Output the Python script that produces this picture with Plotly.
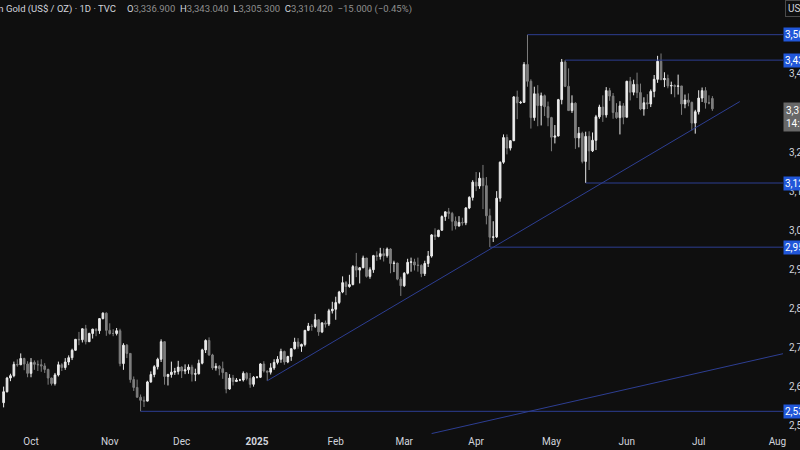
import pandas as pd
import plotly.graph_objects as go

# ---------------- data (daily OHLC, CFDs on Gold US$/OZ, TVC) ----------------
dates = [
    "2024-09-19", "2024-09-20", "2024-09-23", "2024-09-24", "2024-09-25", "2024-09-26", "2024-09-27", "2024-09-30",
    "2024-10-01", "2024-10-02", "2024-10-03", "2024-10-04", "2024-10-07", "2024-10-08", "2024-10-09", "2024-10-10",
    "2024-10-11", "2024-10-14", "2024-10-15", "2024-10-16", "2024-10-17", "2024-10-18", "2024-10-21", "2024-10-22",
    "2024-10-23", "2024-10-24", "2024-10-25", "2024-10-28", "2024-10-29", "2024-10-30", "2024-10-31",
    "2024-11-01", "2024-11-04", "2024-11-05", "2024-11-06", "2024-11-07", "2024-11-08", "2024-11-11", "2024-11-12",
    "2024-11-13", "2024-11-14", "2024-11-15", "2024-11-18", "2024-11-19", "2024-11-20", "2024-11-21", "2024-11-22",
    "2024-11-25", "2024-11-26", "2024-11-27", "2024-11-28", "2024-11-29",
    "2024-12-02", "2024-12-03", "2024-12-04", "2024-12-05", "2024-12-06", "2024-12-09", "2024-12-10", "2024-12-11",
    "2024-12-12", "2024-12-13", "2024-12-16", "2024-12-17", "2024-12-18", "2024-12-19", "2024-12-20", "2024-12-23",
    "2024-12-24", "2024-12-25", "2024-12-26", "2024-12-27", "2024-12-30", "2024-12-31",
    "2025-01-01", "2025-01-02", "2025-01-03", "2025-01-06", "2025-01-07", "2025-01-08", "2025-01-09", "2025-01-10",
    "2025-01-13", "2025-01-14", "2025-01-15", "2025-01-16", "2025-01-17", "2025-01-20", "2025-01-21", "2025-01-22",
    "2025-01-23", "2025-01-24", "2025-01-27", "2025-01-28", "2025-01-29", "2025-01-30", "2025-01-31",
    "2025-02-03", "2025-02-04", "2025-02-05", "2025-02-06", "2025-02-07", "2025-02-10", "2025-02-11", "2025-02-12",
    "2025-02-13", "2025-02-14", "2025-02-17", "2025-02-18", "2025-02-19", "2025-02-20", "2025-02-21", "2025-02-24",
    "2025-02-25", "2025-02-26", "2025-02-27", "2025-02-28",
    "2025-03-03", "2025-03-04", "2025-03-05", "2025-03-06", "2025-03-07", "2025-03-10", "2025-03-11", "2025-03-12",
    "2025-03-13", "2025-03-14", "2025-03-17", "2025-03-18", "2025-03-19", "2025-03-20", "2025-03-21", "2025-03-24",
    "2025-03-25", "2025-03-26", "2025-03-27", "2025-03-28", "2025-03-31",
    "2025-04-01", "2025-04-02", "2025-04-03", "2025-04-04", "2025-04-07", "2025-04-08", "2025-04-09", "2025-04-10",
    "2025-04-11", "2025-04-14", "2025-04-15", "2025-04-16", "2025-04-17", "2025-04-18", "2025-04-21", "2025-04-22",
    "2025-04-23", "2025-04-24", "2025-04-25", "2025-04-28", "2025-04-29", "2025-04-30",
    "2025-05-01", "2025-05-02", "2025-05-05", "2025-05-06", "2025-05-07", "2025-05-08", "2025-05-09", "2025-05-12",
    "2025-05-13", "2025-05-14", "2025-05-15", "2025-05-16", "2025-05-19", "2025-05-20", "2025-05-21", "2025-05-22",
    "2025-05-23", "2025-05-26", "2025-05-27", "2025-05-28", "2025-05-29", "2025-05-30",
    "2025-06-02", "2025-06-03", "2025-06-04", "2025-06-05", "2025-06-06", "2025-06-09", "2025-06-10", "2025-06-11",
    "2025-06-12", "2025-06-13", "2025-06-16", "2025-06-17", "2025-06-18", "2025-06-19", "2025-06-20", "2025-06-23",
    "2025-06-24", "2025-06-25", "2025-06-26", "2025-06-27", "2025-06-30",
    "2025-07-01", "2025-07-02", "2025-07-03", "2025-07-04", "2025-07-07",
]
opens = [
    2559, 2587, 2622, 2628, 2657, 2656, 2672, 2658,
    2634, 2662, 2657, 2656, 2653, 2644, 2622, 2608, 2630, 2656, 2649, 2663, 2674, 2693, 2721, 2720,
    2748, 2715, 2736, 2747, 2743, 2774, 2788,
    2744, 2736, 2736, 2743, 2659, 2706, 2685, 2618, 2598, 2573, 2565, 2563, 2612, 2631, 2651, 2670,
    2715, 2626, 2631, 2637, 2639,
    2650, 2640, 2643, 2650, 2632, 2633, 2660, 2694, 2718, 2681, 2648, 2652, 2646, 2636, 2594, 2622,
    2613, 2617, 2617, 2634, 2621, 2606,
    2624, 2624, 2658, 2640, 2637, 2648, 2662, 2670, 2690, 2663, 2677, 2697, 2714, 2703, 2708, 2744,
    2755, 2754, 2771, 2740, 2763, 2760, 2794,
    2798, 2815, 2842, 2866, 2856, 2861, 2907, 2898, 2904, 2929, 2882, 2899, 2935, 2933, 2940, 2935,
    2952, 2915, 2916, 2875,
    2858, 2890, 2918, 2919, 2911, 2910, 2889, 2915, 2934, 2988, 2984, 3000, 3035, 3047, 3043, 3023,
    3011, 3020, 3019, 3057, 3084,
    3123, 3113, 3133, 3114, 3037, 2982, 2983, 3082, 3174, 3237, 3210, 3229, 3341, 3326, 3327, 3424,
    3381, 3288, 3349, 3319, 3344, 3316,
    3288, 3238, 3241, 3334, 3430, 3368, 3306, 3325, 3236, 3248, 3176, 3240, 3203, 3230, 3290, 3315,
    3295, 3357, 3343, 3301, 3288, 3318,
    3289, 3381, 3353, 3373, 3352, 3310, 3326, 3323, 3355, 3386, 3432, 3385, 3388, 3369, 3370, 3368,
    3369, 3323, 3333, 3327, 3274,
    3303, 3338, 3357, 3326, 3336.90,
]
highs = [
    2600, 2625, 2633, 2664, 2670, 2685, 2674, 2665,
    2673, 2667, 2667, 2670, 2660, 2646, 2623, 2635, 2664, 2660, 2673, 2680, 2697, 2722, 2740, 2749,
    2758, 2738, 2748, 2749, 2775, 2790, 2790,
    2762, 2747, 2750, 2748, 2711, 2709, 2685, 2626, 2618, 2580, 2575, 2615, 2639, 2655, 2674, 2721,
    2716, 2633, 2664, 2648, 2666,
    2652, 2657, 2657, 2656, 2646, 2669, 2697, 2721, 2726, 2684, 2660, 2655, 2664, 2636, 2632, 2630,
    2622, 2620, 2639, 2637, 2635, 2627,
    2627, 2660, 2665, 2641, 2660, 2670, 2678, 2697, 2692, 2679, 2698, 2725, 2724, 2710, 2745, 2763,
    2760, 2786, 2772, 2765, 2769, 2799, 2817,
    2830, 2845, 2882, 2870, 2886, 2911, 2942, 2906, 2935, 2929, 2905, 2937, 2946, 2955, 2954, 2956,
    2954, 2922, 2917, 2881,
    2893, 2927, 2930, 2927, 2930, 2913, 2922, 2947, 2990, 3005, 3001, 3038, 3048, 3057, 3047, 3035,
    3036, 3032, 3059, 3087, 3128,
    3149, 3148, 3167, 3136, 3055, 3023, 3100, 3176, 3245, 3245, 3230, 3343, 3357, 3331, 3430, 3500,
    3386, 3367, 3371, 3352, 3347, 3329,
    3290, 3269, 3336, 3438, 3435, 3414, 3345, 3327, 3264, 3252, 3252, 3253, 3250, 3295, 3321, 3345,
    3366, 3364, 3351, 3325, 3330, 3325,
    3382, 3392, 3385, 3403, 3375, 3340, 3348, 3360, 3397, 3446, 3452, 3404, 3398, 3380, 3373, 3398,
    3369, 3347, 3350, 3329, 3308,
    3358, 3365, 3366, 3345, 3343.04,
]
lows = [
    2547, 2585, 2614, 2624, 2651, 2655, 2642, 2624,
    2624, 2643, 2640, 2638, 2635, 2605, 2603, 2603, 2626, 2640, 2643, 2655, 2668, 2692, 2706, 2713,
    2708, 2714, 2723, 2729, 2735, 2772, 2730,
    2733, 2729, 2731, 2652, 2643, 2673, 2610, 2589, 2572, 2537, 2548, 2562, 2610, 2624, 2644, 2663,
    2605, 2603, 2623, 2630, 2631,
    2622, 2632, 2633, 2613, 2614, 2631, 2657, 2686, 2679, 2643, 2641, 2629, 2620, 2583, 2592, 2603,
    2612, 2614, 2613, 2616, 2597, 2600,
    2621, 2622, 2636, 2615, 2631, 2643, 2657, 2661, 2656, 2660, 2666, 2695, 2697, 2689, 2703, 2742,
    2743, 2750, 2730, 2737, 2751, 2755, 2787,
    2771, 2811, 2839, 2834, 2853, 2859, 2880, 2864, 2903, 2879, 2876, 2891, 2922, 2925, 2920, 2930,
    2890, 2893, 2872, 2832,
    2855, 2887, 2894, 2897, 2894, 2880, 2883, 2906, 2930, 2975, 2982, 2999, 3024, 3029, 2999, 3002,
    3009, 3012, 3013, 3054, 3076,
    3100, 3106, 3054, 3015, 2957, 2970, 2980, 3073, 3170, 3194, 3204, 3228, 3284, 3323, 3326, 3367,
    3260, 3280, 3266, 3268, 3292, 3266,
    3202, 3222, 3240, 3322, 3366, 3306, 3300, 3208, 3212, 3171, 3121, 3154, 3200, 3205, 3285, 3277,
    3288, 3331, 3285, 3285, 3245, 3271,
    3289, 3332, 3345, 3338, 3307, 3293, 3310, 3315, 3340, 3377, 3384, 3366, 3363, 3348, 3340, 3347,
    3295, 3312, 3317, 3255, 3247,
    3296, 3328, 3311, 3322, 3305.30,
]
closes = [
    2587, 2622, 2628, 2657, 2656, 2672, 2658, 2634,
    2662, 2657, 2656, 2653, 2644, 2622, 2608, 2630, 2656, 2649, 2663, 2674, 2693, 2721, 2720, 2748,
    2715, 2736, 2747, 2743, 2774, 2788, 2744,
    2736, 2736, 2743, 2659, 2706, 2685, 2618, 2598, 2573, 2565, 2563, 2612, 2631, 2651, 2670, 2715,
    2626, 2631, 2637, 2639, 2650,
    2640, 2643, 2650, 2632, 2633, 2660, 2694, 2718, 2681, 2648, 2652, 2646, 2636, 2594, 2622, 2613,
    2617, 2617, 2634, 2621, 2606, 2624,
    2624, 2658, 2640, 2637, 2648, 2662, 2670, 2690, 2663, 2677, 2697, 2714, 2703, 2708, 2744, 2755,
    2754, 2771, 2740, 2763, 2760, 2794, 2798,
    2815, 2842, 2866, 2856, 2861, 2907, 2898, 2904, 2929, 2882, 2899, 2935, 2933, 2940, 2935, 2952,
    2915, 2916, 2875, 2858,
    2890, 2918, 2919, 2911, 2910, 2889, 2915, 2934, 2988, 2984, 3000, 3035, 3047, 3043, 3023, 3011,
    3020, 3019, 3057, 3084, 3123,
    3113, 3133, 3114, 3037, 2982, 2983, 3082, 3174, 3237, 3210, 3229, 3341, 3326, 3327, 3424, 3381,
    3288, 3349, 3319, 3344, 3316, 3288,
    3238, 3241, 3334, 3430, 3368, 3306, 3325, 3236, 3248, 3176, 3240, 3203, 3230, 3290, 3315, 3295,
    3357, 3343, 3301, 3288, 3318, 3289,
    3381, 3353, 3373, 3352, 3310, 3326, 3323, 3355, 3386, 3432, 3385, 3388, 3369, 3370, 3368, 3369,
    3323, 3333, 3327, 3274, 3303,
    3338, 3357, 3326, 3325.42, 3310.42,
]

month_tick_dates = ["2024-10-01", "2024-11-01", "2024-12-02", "2025-01-01", "2025-02-03", "2025-03-03",
                    "2025-04-01", "2025-05-01", "2025-06-02", "2025-07-01", "2025-08-01"]
month_tick_labels = ["Oct", "Nov", "Dec", "<b>2025</b>", "Feb", "Mar", "Apr", "May", "Jun", "Jul", "Aug"]

# price-scale labels (3,300 / 3,500 sit under the price boxes in the original and are hidden)
price_ticks = [2500, 2600, 2700, 2800, 2900, 3000, 3100, 3200, 3400]

level_prices = [3500.10, 3435.00, 3120.80, 2956.70, 2536.90]
level_start_dates = ["2025-04-22", "2025-05-07", "2025-05-15", "2025-04-07", "2024-11-14"]

trend_dates = [["2025-01-06", "2025-07-17"], ["2025-03-13", "2025-08-06"]]
trend_prices = [[2615, 3329], [2480, 2687]]

title_text = "CFDs on Gold (US$ / OZ) · 1D · TVC"
change_text = "−15.000 (−0.45%)"
countdown_text = "14:05:31"

# ---------------- styling ----------------
BG = "#0f0f0f"
UP = "#ebebeb"
DOWN = "#7e7e7e"
LINE_BLUE = "#2d3e92"
LABEL_BLUE = "#2157d9"
TXT = "#d1d4dc"
FONT = "Roboto"

# trading-day calendar (bar index axis, like TradingView; one bar per weekday)
cal = [d.strftime("%Y-%m-%d") for d in pd.bdate_range("2024-09-02", "2025-09-30")]
origin = cal.index("2024-10-01")
pos = {d: i - origin for i, d in enumerate(cal)}

x = [pos[d] for d in dates]
PX_PER_BAR = 3.424
X0_PX = 31
PLOT_W = 783
x_range = [-X0_PX / PX_PER_BAR, (PLOT_W - X0_PX) / PX_PER_BAR]
y_range = [2478.9, 3588.8]
x_far = x_range[1] + 20

fig = go.Figure()

fig.add_trace(go.Candlestick(
    x=x, open=opens, high=highs, low=lows, close=closes,
    increasing=dict(line=dict(color=UP, width=1), fillcolor=UP),
    decreasing=dict(line=dict(color=DOWN, width=1), fillcolor=DOWN),
    whiskerwidth=0, hoverinfo="skip", showlegend=False,
))

for p, d in zip(level_prices, level_start_dates):
    fig.add_trace(go.Scatter(x=[pos[d], x_far], y=[p, p], mode="lines",
                             line=dict(color=LINE_BLUE, width=1), hoverinfo="skip", showlegend=False))

for ds, ps in zip(trend_dates, trend_prices):
    fig.add_trace(go.Scatter(x=[pos[ds[0]], pos[ds[1]]], y=ps, mode="lines",
                             line=dict(color=LINE_BLUE, width=1), hoverinfo="skip", showlegend=False))

annotations = []
# price labels on the level lines
for p in level_prices:
    annotations.append(dict(
        x=1, xref="paper", xanchor="left", y=p, yref="y", yanchor="middle",
        text=f"{p:,.3f}", showarrow=False, bgcolor=LABEL_BLUE, borderpad=1,
        font=dict(family=FONT, size=10, color="#ffffff"), align="left"))
# last price + countdown
annotations.append(dict(
    x=1, xref="paper", xanchor="left", y=closes[-1], yref="y", yanchor="top", yshift=7,
    text=f"{closes[-1]:,.3f}<br>{countdown_text}", showarrow=False, bgcolor="#686868", borderpad=2,
    font=dict(family=FONT, size=10, color="#ffffff"), align="left"))
# header
hx = 118 / PLOT_W
annotations.append(dict(
    x=hx, xref="paper", xanchor="right", y=1, yref="paper", yanchor="top", yshift=-1,
    text=title_text, showarrow=False, font=dict(family=FONT, size=9.5, color=TXT)))
val = "#8e8e8e"
ohlc = (f"O<span style='color:{val}'>{opens[-1]:,.3f}</span>  "
        f"H<span style='color:{val}'>{highs[-1]:,.3f}</span>  "
        f"L<span style='color:{val}'>{lows[-1]:,.3f}</span>  "
        f"C<span style='color:{val}'>{closes[-1]:,.3f}</span>  "
        f"<span style='color:{val}'>{change_text}</span>")
annotations.append(dict(
    x=125 / PLOT_W, xref="paper", xanchor="left", y=1, yref="paper", yanchor="top", yshift=-1,
    text=ohlc, showarrow=False, font=dict(family=FONT, size=9.5, color=TXT)))
# currency button
annotations.append(dict(
    x=1, xref="paper", xanchor="left", xshift=2, y=1, yref="paper", yanchor="top",
    text="USD", showarrow=False, bgcolor=BG, bordercolor="#4a4a4a", borderwidth=1, borderpad=2,
    font=dict(family=FONT, size=10, color=TXT)))

fig.update_layout(
    width=800, height=450,
    margin=dict(l=0, r=800 - PLOT_W, t=0, b=16, autoexpand=False),
    paper_bgcolor=BG, plot_bgcolor=BG,
    showlegend=False,
    font=dict(family=FONT, color=TXT),
    annotations=annotations,
    xaxis=dict(range=x_range, tickvals=[pos[d] for d in month_tick_dates], ticktext=month_tick_labels,
               showgrid=False, zeroline=False, showline=False, ticks="", automargin=False,
               tickfont=dict(family=FONT, size=10, color=TXT),
               rangeslider=dict(visible=False), fixedrange=True),
    yaxis=dict(side="right", range=y_range, tickvals=price_ticks,
               ticktext=[f"{v:,.3f}" for v in price_ticks],
               showgrid=False, zeroline=False, showline=False, ticks="", automargin=False,
               ticklabelstandoff=5,
               tickfont=dict(family=FONT, size=10, color=TXT), fixedrange=True),
)

fig.write_html("out.html")
